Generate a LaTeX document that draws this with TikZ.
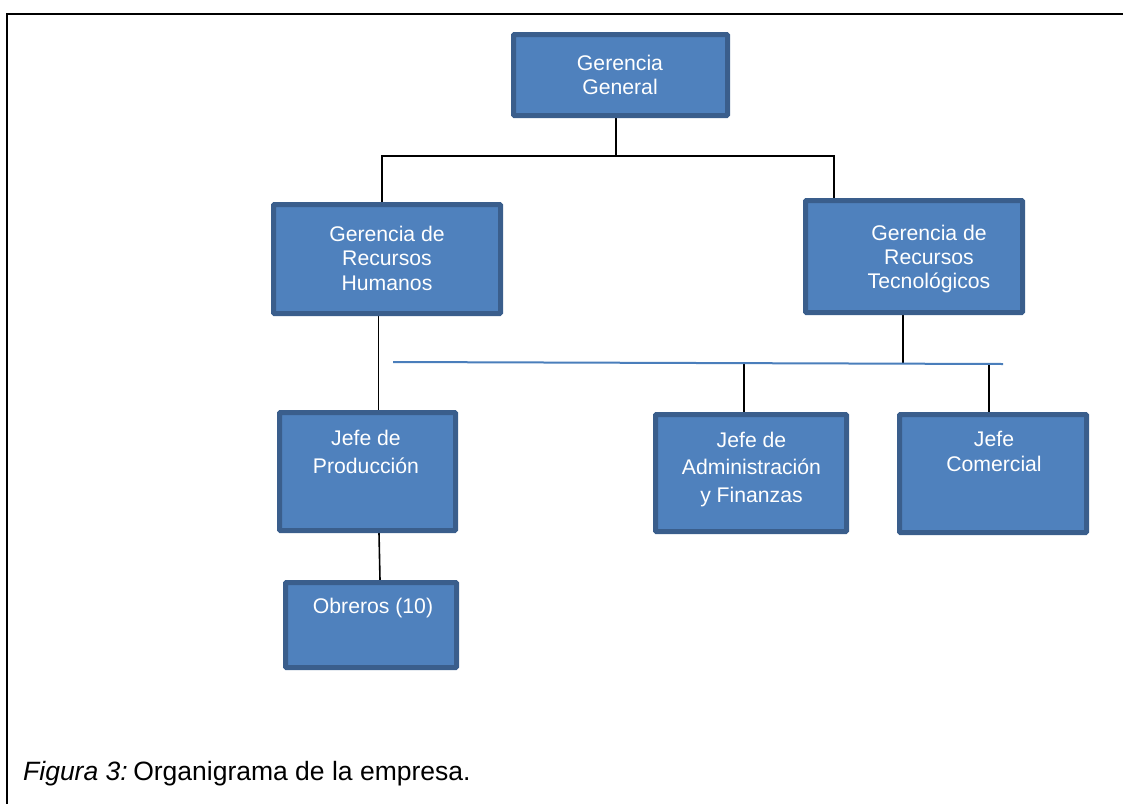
\documentclass[tikz,border=0pt]{standalone}
\usepackage{fontspec}
\setmainfont{Liberation Sans}
\usetikzlibrary{calc,backgrounds}
\definecolor{boxfill}{HTML}{4F81BD}
\definecolor{boxline}{HTML}{3A5E8C}
\definecolor{busblue}{HTML}{4A7EBB}
\begin{document}
\begin{tikzpicture}[x=1pt,y=-1pt,
  orgbox/.style={draw=boxline, fill=boxfill, line width=5pt, rounded corners=1pt, inner sep=0pt},
  boxtext/.style={text=white, align=center, inner sep=0pt, anchor=north, font=\fontsize{21.2}{#1}\selectfont},
  link/.style={draw=black, line width=1.6pt},
  bluebus/.style={draw=busblue, line width=2pt}]
\useasboundingbox (0,0) rectangle (1123,803);
% open frame: top and left sides only
\draw[line width=2pt] (1130,13.5) -- (7,13.5) -- (7,810);

% boxes (outer size minus the border width)
\node[orgbox, minimum width=214pt, minimum height=81pt]  (gg)  at (620.5,75)   {};
\node[orgbox, minimum width=227pt, minimum height=109pt] (grh) at (387,259)    {};
\node[orgbox, minimum width=217pt, minimum height=112pt] (grt) at (914,256.5)  {};
\node[orgbox, minimum width=176pt, minimum height=118pt] (jp)  at (367.5,471.5){};
\node[orgbox, minimum width=191pt, minimum height=117pt] (ja)  at (751,473)    {};
\node[orgbox, minimum width=187pt, minimum height=118pt] (jc)  at (993,473.5)  {};
\node[orgbox, minimum width=171pt, minimum height=85pt]  (ob)  at (371,625)    {};

% box labels
\node[boxtext=23.5] (ggt)  at (620,54.7)  {\rule{0pt}{16pt}Gerencia\\General};
\node[boxtext=24.5] (grht) at (387,225)   {\rule{0pt}{16pt}Gerencia de\\Recursos\\Humanos};
\node[boxtext=24]   (grtt) at (929,224)   {\rule{0pt}{16pt}Gerencia de\\Recursos\\Tecnológicos};
\node[boxtext=28]   (jpt)  at (366,429)   {\rule{0pt}{16pt}Jefe de\\Producción};
\node[boxtext=27.5] (jat)  at (751.5,431) {\rule{0pt}{16pt}Jefe de\\Administración\\y Finanzas};
\node[boxtext=25]   (jct)  at (994,430)   {\rule{0pt}{16pt}Jefe\\Comercial};
\node[boxtext=24]   (obt)  at (373,597)   {\rule{0pt}{16pt}Obreros (10)};

% junction points of the connectors
\coordinate (busT) at (616,156);
\coordinate (busL) at (382,156);
\coordinate (busR) at (834,156);
\coordinate (b1) at (393,362);
\coordinate (b2) at (1003,364);
\coordinate (t3) at (903,363.5);
\coordinate (t4) at (744,363);
\coordinate (t5) at (989,364);
\coordinate (t6) at (378.5,360);

% connectors run behind the boxes
\begin{scope}[on background layer]
  \draw[link] (busT |- gg.south) -- (busT);
  \draw[link] (busL |- grh.north) -- (busL) -- (busR) -- (busR |- grt.north);
  \draw[link] (t6 |- grh.south) -- (t6 |- jp.north);
  \draw[link] ($(jp.south)+(11.5,0)$) -- ($(ob.north)+(9,0)$);
  \draw[link] (t3 |- grt.south) -- (t3);
  \draw[link] (t4) -- (t4 |- ja.north);
  \draw[link] (t5) -- (t5 |- jc.north);
  \draw[bluebus] (b1) -- (b2);
\end{scope}

% caption
\node[anchor=base west, inner sep=0pt, font=\fontsize{26.5}{30}\selectfont] (cap) at (23,780)
  {{\itshape Figura 3:}\hspace{5.5pt}Organigrama de la empresa.};
\end{tikzpicture}
\end{document}
